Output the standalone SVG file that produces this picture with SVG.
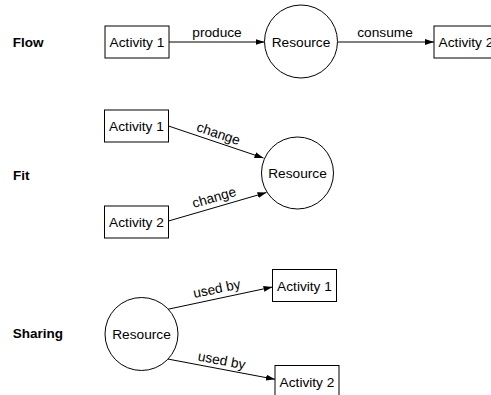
<svg xmlns="http://www.w3.org/2000/svg" width="491" height="395" viewBox="0 0 491 395">
<defs>
<marker id="arr" markerUnits="userSpaceOnUse" markerWidth="9" markerHeight="6" refX="9" refY="3" orient="auto">
<path d="M0,0 L9,3 L0,6 z" fill="#000"/>
</marker>
<style>
.box{fill:#fff;stroke:#000;stroke-width:1}
.res{fill:#fff;stroke:#000;stroke-width:1}
.t{font-family:"Liberation Sans",Arial,sans-serif;font-size:13.7px;fill:#000;text-anchor:middle}
.h{font-family:"Liberation Sans",Arial,sans-serif;font-size:13.5px;font-weight:bold;fill:#000}
.c{stroke:#000;stroke-width:1;fill:none;marker-end:url(#arr)}
</style>
</defs>
<rect width="491" height="395" fill="#fff"/>
<g id="labels">
<text class="h" x="12.7" y="47">Flow</text>
<text class="h" x="13" y="180">Fit</text>
<text class="h" x="12.7" y="337.5">Sharing</text>
</g>
<g id="connectors">
<line class="c" x1="169" y1="42" x2="264.5" y2="42"/>
<line class="c" x1="338" y1="42" x2="434" y2="42"/>
<line class="c" x1="168.5" y1="126" x2="263.5" y2="158"/>
<line class="c" x1="168.5" y1="221" x2="266.5" y2="192.5"/>
<line class="c" x1="167.7" y1="309.3" x2="272.5" y2="287"/>
<line class="c" x1="167.7" y1="359" x2="275" y2="379.3"/>
<text class="t" x="217" y="37">produce</text>
<text class="t" x="385" y="36.5">consume</text>
<text class="t" transform="translate(217,138) rotate(18.6)">change</text>
<text class="t" transform="translate(215.4,201.8) rotate(-16.2)">change</text>
<text class="t" transform="translate(217.7,293.2) rotate(-11.8)">used by</text>
<text class="t" transform="translate(220.8,364.9) rotate(10.7)">used by</text>
</g>
<g id="flow-activity1"><rect class="box" x="105" y="26" width="64" height="32"/><text class="t" x="137" y="47">Activity 1</text></g>
<g id="flow-resource"><circle class="res" cx="301" cy="41.5" r="36.5"/><text class="t" x="301" y="46.5">Resource</text></g>
<g id="flow-activity2"><rect class="box" x="434" y="26" width="64" height="32"/><text class="t" x="466" y="47">Activity 2</text></g>
<g id="fit-activity1"><rect class="box" x="104.5" y="110" width="64" height="32"/><text class="t" x="136.5" y="131">Activity 1</text></g>
<g id="fit-activity2"><rect class="box" x="104.5" y="206" width="64" height="32"/><text class="t" x="136.5" y="227">Activity 2</text></g>
<g id="fit-resource"><circle class="res" cx="297.5" cy="173" r="36"/><text class="t" x="297.5" y="178">Resource</text></g>
<g id="sharing-resource"><circle class="res" cx="141.5" cy="334" r="36.5"/><text class="t" x="141.5" y="339">Resource</text></g>
<g id="sharing-activity1"><rect class="box" x="272.5" y="269.5" width="64" height="32"/><text class="t" x="304.5" y="290.5">Activity 1</text></g>
<g id="sharing-activity2"><rect class="box" x="275" y="365.5" width="64" height="32"/><text class="t" x="307" y="386.5">Activity 2</text></g>
</svg>
